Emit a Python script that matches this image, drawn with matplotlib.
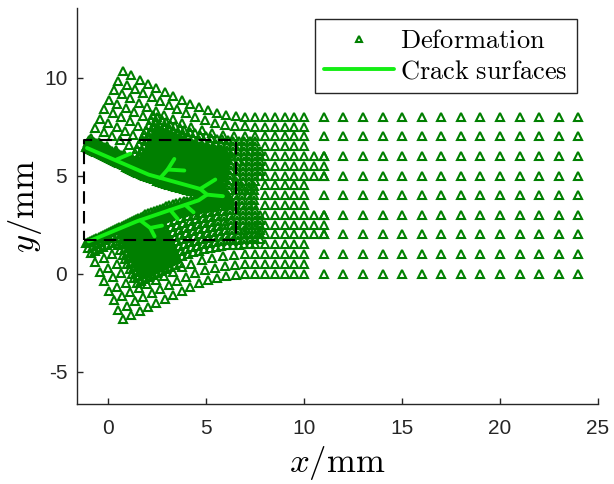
import numpy as np
import matplotlib
matplotlib.use("Agg")
import matplotlib.pyplot as plt

plt.rcParams['mathtext.fontset'] = 'cm'
plt.rcParams['axes.unicode_minus'] = False

# ---------------- data ----------------
x_ticks = [0, 5, 10, 15, 20, 25]
y_ticks = [-5, 0, 5, 10]
x_limits = [-1.6, 25.0]
y_limits = [-6.65, 13.55]

# undeformed node grids
coarse_cols = [11, 12, 13, 14, 15, 16, 17, 18, 19, 20, 21, 22, 23, 24]
coarse_rows = [0, 1, 2, 3, 4, 5, 6, 7, 8]
medium_cols = [0, 0.5, 1, 1.5, 2, 2.5, 3, 3.5, 4, 4.5, 5, 5.5, 6, 6.5, 7, 7.5,
               8, 8.5, 9, 9.5, 10]
medium_rows = [0, 0.5, 1, 1.5, 2, 2.5, 3, 3.5, 4, 4.5, 5, 5.5, 6, 6.5, 7, 7.5, 8]
extra_cols = [10.5, 11]
extra_rows = [2, 2.5, 3, 5, 5.5, 6]
# refined patches (u0, u1, v0, v1, spacing)
fine_patches = [
    (2.5, 7.5, 4.0, 6.75, 0.25),
    (1.5, 7.5, 1.5, 4.0, 0.25),
    (1.5, 4.0, 1.25, 1.5, 0.25),
    (0.0, 1.5, 3.5, 4.0, 0.25),
    (6.5, 7.75, 5.0, 6.25, 0.25),
    (6.5, 7.75, 1.75, 3.0, 0.25),
    (6.5, 7.0, 3.0, 5.0, 0.25),
    (0.0, 3.0, 4.0, 4.375, 0.125),
    (3.0, 6.25, 4.0, 6.25, 0.125),
    (2.0, 4.0, 1.5, 4.0, 0.125),
    (4.0, 6.5, 3.5, 4.0, 0.125),
]
# deformation of the two crack flanks
flap_angle_deg = 26.0
bend_start = 3.0
bend_end = 8.0
fiber_shortening = 0.05
thickness_stretch = 0.075
crack_tip_u = 6.0
crack_v = 4.0

# crack surfaces (deformed coordinates)
crack_upper_x = [-1.09, 2.06, 4.69, 5.04, 5.85]
crack_upper_y = [6.41, 5.05, 4.32, 4.03, 3.95]
crack_lower_x = [-1.00, 1.46, 4.61, 5.04]
crack_lower_y = [1.65, 2.67, 3.74, 4.03]
branch_1_x = [0.42, 1.12]
branch_1_y = [5.82, 6.12]
branch_2_x = [2.65, 3.03, 3.37]
branch_2_y = [4.88, 5.31, 5.85]
branch_3_x = [3.03, 3.88]
branch_3_y = [5.31, 5.26]
branch_4_x = [4.69, 5.46]
branch_4_y = [4.32, 4.80]
branch_5_x = [1.63, 2.14, 2.36]
branch_5_y = [2.72, 2.33, 1.90]
branch_6_x = [2.14, 2.74]
branch_6_y = [2.33, 2.45]
branch_7_x = [3.16, 3.54]
branch_7_y = [3.25, 2.79]
branch_8_x = [3.93, 4.35]
branch_8_y = [3.50, 3.13]

box_x = [-1.25, 6.5, 6.5, -1.25, -1.25]
box_y = [1.7, 1.7, 6.8, 6.8, 1.7]

# ---------------- build nodes ----------------
def in_patch(u, v):
    for (u0, u1, v0, v1, h) in fine_patches:
        if u0 - 1e-9 <= u <= u1 + 1e-9 and v0 - 1e-9 <= v <= v1 + 1e-9:
            return True
    return False

nodes = []
for u in coarse_cols:
    for v in coarse_rows:
        nodes.append((u, v))
for u in medium_cols:
    for v in medium_rows:
        if not in_patch(u, v):
            nodes.append((u, v))
for u in extra_cols:
    for v in extra_rows:
        nodes.append((u, v))
seen = set()
for (u0, u1, v0, v1, h) in fine_patches:
    for u in np.arange(u0, u1 + 1e-9, h):
        for v in np.arange(v0, v1 + 1e-9, h):
            key = (round(u, 4), round(v, 4))
            if key not in seen:
                seen.add(key)
                nodes.append((u, v))

theta0 = np.deg2rad(flap_angle_deg)
s_grid = np.linspace(0, 10, 4001)

def weight(s):
    s = np.asarray(s, dtype=float)
    w = np.where(s <= bend_start, 1.0, 0.0)
    mid = (s > bend_start) & (s < bend_end)
    w = np.where(mid, 0.5 * (1 + np.cos(np.pi * (s - bend_start) / (bend_end - bend_start))), w)
    return w

w_grid = weight(s_grid)
phi_grid = -theta0 * w_grid
speed = 1 - fiber_shortening * w_grid
ds = s_grid[1] - s_grid[0]
fc = speed * np.cos(phi_grid)
fs = speed * np.sin(phi_grid)
Ic = np.concatenate([[0], np.cumsum(0.5 * (fc[1:] + fc[:-1]) * ds)])
Is = np.concatenate([[0], np.cumsum(0.5 * (fs[1:] + fs[:-1]) * ds)])

def upper_map(u, v):
    if u >= 10:
        return u, v
    w = float(weight(u))
    phi = -theta0 * w
    tx = 10 - (Ic[-1] - np.interp(u, s_grid, Ic))
    ty = 8 - (Is[-1] - np.interp(u, s_grid, Is))
    d = (8 - v) * (1 + thickness_stretch * w)
    return tx + d * np.sin(phi), ty - d * np.cos(phi)

def lower_map(u, v):
    x, y = upper_map(u, 8 - v)
    return x, 8 - y

px, py = [], []
for (u, v) in nodes:
    if v > crack_v + 1e-9:
        x, y = upper_map(u, v)
        px.append(x); py.append(y)
    elif v < crack_v - 1e-9:
        x, y = lower_map(u, v)
        px.append(x); py.append(y)
    else:
        if u < crack_tip_u:
            x, y = upper_map(u, v); px.append(x); py.append(y)
            x, y = lower_map(u, v); px.append(x); py.append(y)
        else:
            x1, y1 = upper_map(u, v)
            x2, y2 = lower_map(u, v)
            px.append(0.5 * (x1 + x2)); py.append(0.5 * (y1 + y2))

# ---------------- plot ----------------
fig = plt.figure(figsize=(6.14, 4.84), dpi=100)
ax = fig.add_axes([77 / 614, 80 / 484, 521 / 614, 396 / 484])

mk_color = '#007F00'
crack_color = '#14EE14'
ax.plot(px, py, linestyle='none', marker='^', ms=5.5, mfc='none', mec=mk_color,
        mew=1.5, label=r'$\mathrm{Deformation}$', zorder=2)

cracks = [(crack_upper_x, crack_upper_y), (crack_lower_x, crack_lower_y),
          (branch_1_x, branch_1_y), (branch_2_x, branch_2_y), (branch_3_x, branch_3_y),
          (branch_4_x, branch_4_y), (branch_5_x, branch_5_y), (branch_6_x, branch_6_y),
          (branch_7_x, branch_7_y), (branch_8_x, branch_8_y)]
for i, (cx, cy) in enumerate(cracks):
    ax.plot(cx, cy, color=crack_color, lw=2.8, solid_capstyle='round',
            label=r'$\mathrm{Crack\ surfaces}$' if i == 0 else None, zorder=3)

ax.plot(box_x, box_y, color='black', lw=1.5, dashes=(6, 3.5), zorder=4)

ax.set_xlim(x_limits)
ax.set_ylim(y_limits)
ax.set_xticks(x_ticks)
ax.set_yticks(y_ticks)
for lab in ax.get_xticklabels() + ax.get_yticklabels():
    lab.set_fontfamily('Liberation Sans')
    lab.set_fontsize(15)
    lab.set_color('#262626')
ax.tick_params(direction='in', length=4, width=1, colors='#262626')
ax.tick_params(axis='x', pad=11)
ax.tick_params(axis='y', pad=7)
ax.spines['top'].set_visible(False)
ax.spines['right'].set_visible(False)
for sp in ['left', 'bottom']:
    ax.spines[sp].set_color('#262626')
    ax.spines[sp].set_linewidth(1.0)

ax.set_xlabel(r'$x/\mathrm{mm}$', fontsize=25, labelpad=4)
ax.set_ylabel(r'$y/\mathrm{mm}$', fontsize=25, labelpad=0)

leg = ax.legend(loc='upper right', bbox_to_anchor=(577 / 614, 1 - 19 / 484),
                bbox_transform=fig.transFigure, fontsize=19, frameon=True,
                fancybox=False, framealpha=1, edgecolor='#262626',
                handlelength=2.65, handletextpad=0.25, borderpad=0.35,
                labelspacing=0.15, borderaxespad=0, markerscale=0.8)
leg.get_frame().set_linewidth(1.0)

fig.savefig('out.png', dpi=100)
